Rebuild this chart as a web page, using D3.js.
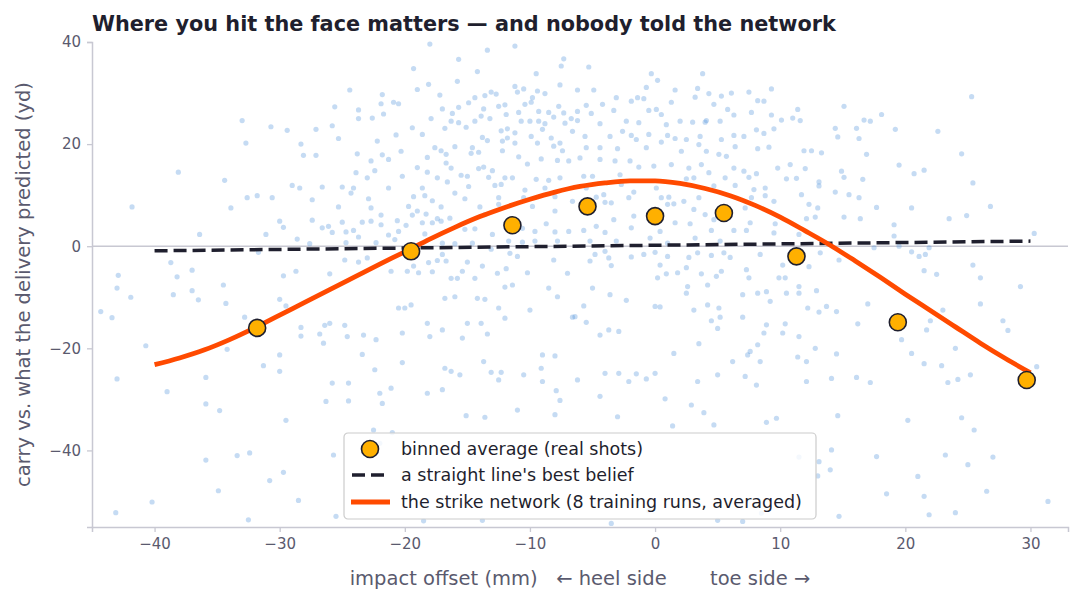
<!DOCTYPE html>
<html>
<head>
<meta charset="utf-8">
<script src="https://cdn.jsdelivr.net/npm/d3@7"></script>
<style>
  body { margin: 0; background: #fff; }
  #chart { width: 1083px; height: 603px; }
  text { font-family: "DejaVu Sans", sans-serif; }
</style>
</head>
<body>
<div id="chart"></div>
<script>
// individual shots: [impact offset mm, carry residual yd]
var shots = [
[-18.0,39.6],[-13.4,38.4],[-11.2,39.2],[-15.7,36.6],[-7.3,36.7],[-7.5,35.3],[-19.3,34.8],[-14.2,34.2],[-9.5,33.8],[-15.8,32.3],
[-18.1,31.7],[-11.2,31.3],[-10.5,30.8],[-7.6,31.6],[-24.4,30.6],[-19.0,30.7],[-6.2,30.6],[-21.8,29.7],[-17.2,29.6],[-13.1,30.2],
[-12.7,29.8],[-13.6,29.5],[-11.0,30.2],[-9.8,29.1],[-9.4,30.4],[-8.8,29.9],[-14.4,29.1],[-20.9,28.2],[-20.5,27.9],[-21.9,27.9],
[-14.9,28.1],[-12.5,27.4],[-12.0,27.7],[-10.4,27.8],[-9.9,28.2],[-7.7,27.4],[-25.6,27.3],[-17.0,26.9],[-15.7,27.2],[-13.7,26.9],
[-23.7,26.7],[-10.9,26.2],[-9.3,26.4],[-8.5,26.2],[-7.3,26.1],[-6.2,26.4],[-21.7,25.9],[-16.2,26.0],[-13.9,25.5],[-13.2,25.0],
[-11.9,25.8],[-8.1,25.3],[-6.7,25.0],[-22.6,25.1],[-23.7,25.0],[-17.9,25.0],[-16.3,24.5],[-15.7,24.2],[-14.4,24.5],[-10.7,24.5],
[-10.0,24.5],[-9.3,24.5],[-8.8,24.0],[-7.2,24.1],[-6.2,24.6],[-33.0,24.6],[-30.7,23.4],[-25.8,23.6],[-19.4,23.2],[-16.8,23.1],
[-15.1,23.3],[-11.8,23.0],[-9.0,22.9],[-6.6,22.5],[-29.4,22.7],[-27.1,22.9],[-20.7,21.8],[-18.6,21.9],[-12.3,22.6],[-11.2,22.2],
[-9.9,21.5],[-13.8,21.3],[-11.8,21.2],[-8.3,21.2],[-25.3,21.1],[-22.2,20.6],[-13.4,20.7],[-12.2,20.6],[-11.2,20.2],[-9.4,20.2],
[-7.6,20.2],[-32.7,20.2],[-28.3,20.0],[-8.1,19.6],[-14.6,19.3],[-17.6,19.3],[-16.0,19.5],[-14.7,18.2],[-14.1,18.4],[-17.1,18.7],
[-16.7,18.0],[-12.2,18.7],[-7.4,18.7],[-20.3,18.6],[-28.1,17.8],[-27.1,17.8],[-23.8,18.1],[-21.8,17.9],[-18.2,17.4],[-10.9,17.5],
[-9.1,17.1],[-7.8,16.8],[-6.9,16.7],[-22.7,16.7],[-21.3,17.0],[-16.7,16.3],[-10.2,16.1],[-19.0,15.4],[-16.3,15.3],[-14.1,15.2],
[-13.7,15.5],[-13.0,14.8],[-38.1,14.5],[-23.9,14.4],[-22.4,14.8],[-18.2,14.5],[-17.4,13.4],[-16.6,12.6],[-15.5,13.9],[-15.0,13.7],
[-13.3,13.5],[-12.0,13.4],[-11.4,13.4],[-9.5,13.1],[-8.5,12.9],[-7.6,13.4],[-34.4,12.9],[-23.0,13.4],[-20.2,13.7],[-29.0,11.9],
[-28.4,11.4],[-26.6,11.6],[-25.0,11.6],[-24.1,11.4],[-21.3,11.4],[-18.6,11.4],[-14.9,11.7],[-12.8,11.9],[-12.3,12.1],[-10.4,11.0],
[-8.8,11.4],[-32.6,9.5],[-31.8,9.9],[-30.6,9.5],[-27.4,9.1],[-24.3,10.4],[-22.9,9.3],[-19.3,9.7],[-18.4,9.9],[-17.8,8.9],
[-16.0,10.4],[-15.2,9.3],[-12.5,9.5],[-10.5,9.5],[-8.0,9.7],[-41.8,7.7],[-33.9,7.5],[-25.3,7.7],[-22.7,7.5],[-19.7,7.8],
[-19.0,6.9],[-17.1,7.7],[-14.0,7.7],[-12.5,8.2],[-9.8,7.8],[-6.6,8.8],[-21.9,6.1],[-19.4,6.1],[-18.3,6.3],[-17.4,5.4],
[-16.4,5.5],[-13.6,6.2],[-8.0,6.9],[-30.0,4.9],[-29.7,3.7],[-27.4,5.1],[-26.6,3.6],[-26.1,3.9],[-25.0,4.7],[-24.1,3.1],
[-23.4,4.7],[-22.7,4.9],[-21.9,4.2],[-20.6,5.0],[-19.9,4.1],[-18.6,4.6],[-17.8,4.6],[-17.1,4.9],[-15.2,3.3],[-14.4,3.4],
[-10.6,3.5],[-9.6,2.9],[-8.7,4.4],[-8.0,2.8],[-6.9,2.9],[-36.4,2.3],[-31.1,2.3],[-25.8,2.7],[-24.7,2.8],[-23.7,1.8],
[-21.3,2.2],[-20.5,2.9],[-18.4,2.4],[-13.0,2.3],[-28.6,1.4],[-27.6,0.5],[-24.7,0.7],[-22.3,0.7],[-20.8,1.3],[-17.0,0.6],
[-16.0,0.5],[-14.6,0.6],[-11.7,1.0],[-10.6,0.8],[-9.6,1.0],[-7.8,1.0],[-38.7,-3.2],[-37.0,-4.7],[-42.9,-5.7],[-38.2,-6.0],
[-31.7,-1.2],[-28.7,-4.9],[-29.7,-5.8],[-26.0,-5.4],[-24.8,-2.7],[-23.7,-3.1],[-23.0,-2.3],[-21.1,-4.9],[-19.8,-4.9],[-19.3,-3.9],
[-18.9,-5.2],[-18.1,-3.2],[-17.8,-5.0],[-17.4,-2.8],[-17.0,-1.6],[-16.7,-2.9],[-16.3,-6.3],[-15.8,-6.3],[-15.4,-4.9],[-15.0,-3.1],
[-14.4,-6.3],[-13.8,-3.9],[-13.1,-0.6],[-12.6,-5.3],[-11.9,-4.4],[-11.6,-1.4],[-11.0,-2.0],[-10.2,-5.2],[-8.1,-2.7],[-7.0,-5.3],
[-5.3,35.1],[-0.3,33.8],[0.2,32.5],[3.8,33.8],[-0.7,31.1],[-4.9,30.6],[3.4,30.9],[1.6,30.6],[7.5,30.2],[9.3,30.8],
[25.3,29.3],[-3.1,29.1],[-1.4,29.1],[-0.9,28.9],[3.2,29.2],[4.3,29.9],[5.3,29.4],[6.1,30.0],[8.2,28.5],[8.7,28.4],
[15.1,27.4],[-5.5,27.6],[-4.2,27.8],[-1.9,28.4],[1.3,28.2],[4.7,27.8],[5.8,26.8],[7.7,26.2],[11.4,26.8],[18.1,25.8],
[-5.1,26.0],[-3.3,26.6],[-0.5,26.6],[0.1,26.8],[0.5,25.8],[2.0,24.5],[3.0,24.3],[4.1,24.6],[5.2,24.5],[6.3,25.7],
[9.3,25.7],[10.1,24.7],[11.0,25.1],[11.6,24.6],[16.7,24.7],[17.2,24.5],[-4.4,24.0],[-2.3,24.5],[-1.3,24.2],[0.9,23.8],
[4.0,24.3],[8.1,22.8],[9.5,23.0],[14.4,23.1],[16.1,23.1],[19.2,22.9],[22.6,22.5],[-5.6,21.5],[-3.6,21.5],[-2.6,22.5],
[-1.9,21.7],[-0.5,21.9],[1.0,21.7],[1.6,21.1],[2.5,20.9],[3.6,21.5],[5.3,20.9],[6.3,21.7],[7.1,21.5],[8.7,22.1],
[14.6,21.4],[16.3,21.1],[-5.5,19.3],[-4.4,19.3],[-3.0,19.1],[-1.5,20.9],[-0.7,19.3],[0.5,20.4],[2.1,18.6],[3.5,19.9],
[4.1,18.6],[5.1,18.0],[5.7,17.6],[6.4,19.5],[8.2,19.1],[9.1,19.4],[11.9,18.7],[12.5,18.7],[13.3,18.3],[16.9,18.0],
[24.5,18.1],[-6.0,17.3],[-4.4,17.0],[-3.2,16.7],[-2.0,16.7],[-0.1,15.7],[1.3,16.0],[2.7,15.3],[3.7,16.0],[4.3,14.4],
[6.3,15.3],[7.1,14.7],[8.1,14.2],[9.8,15.3],[10.8,16.0],[12.0,15.2],[14.9,14.7],[19.5,15.9],[20.7,14.2],[21.5,14.9],
[-5.7,13.7],[-5.0,13.7],[-2.8,14.0],[-1.3,15.5],[2.5,13.2],[3.1,13.4],[5.6,13.4],[7.5,13.5],[10.5,13.2],[11.3,13.3],
[13.1,12.6],[15.1,13.5],[16.6,13.1],[25.4,12.4],[-5.5,11.4],[-2.7,12.1],[0.1,11.4],[4.7,11.8],[6.4,11.9],[7.9,11.1],
[8.8,11.4],[13.1,11.8],[14.4,10.6],[15.5,10.1],[-4.7,9.6],[-4.1,10.1],[-2.1,9.5],[-1.7,10.6],[0.5,9.5],[1.1,9.6],
[2.3,8.8],[3.5,9.5],[7.7,9.5],[8.8,9.9],[11.7,10.1],[16.3,9.5],[17.7,7.6],[20.5,7.5],[26.8,7.8],[-4.0,8.6],
[-3.5,8.5],[1.0,8.2],[1.5,8.3],[3.1,7.2],[7.2,7.5],[9.5,8.8],[12.3,8.2],[13.0,7.5],[-3.3,5.2],[-1.9,3.6],
[-1.7,5.9],[1.6,4.6],[2.8,4.4],[4.0,6.2],[4.7,5.2],[7.6,4.6],[9.6,4.4],[12.1,5.4],[12.8,5.7],[15.1,5.7],
[16.4,5.4],[23.5,5.4],[24.9,6.0],[-5.7,3.1],[-4.7,3.9],[-4.0,2.7],[-0.4,1.6],[0.4,2.9],[4.5,3.1],[6.3,3.1],
[7.3,3.1],[9.5,2.6],[11.5,2.3],[19.1,4.2],[19.1,2.0],[30.3,2.5],[-5.2,1.0],[-3.1,1.0],[1.0,0.6],[3.2,1.6],
[5.2,1.0],[-4.8,-1.6],[-5.2,-2.9],[-4.0,-1.0],[-1.9,-2.1],[-0.9,-1.6],[0.0,-1.2],[1.0,-2.0],[2.7,-2.2],[3.4,-1.3],
[4.5,-1.8],[5.5,-1.3],[6.0,-2.2],[8.4,-1.6],[13.2,-1.3],[14.7,-2.7],[17.5,-0.3],[19.5,0.0],[20.5,-1.1],[21.6,-1.6],
[21.1,-2.0],[21.9,-0.3],[25.4,-3.7],[-3.7,-2.3],[-3.5,-3.8],[0.4,-3.7],[2.5,-4.2],[5.3,-4.9],[7.3,-4.6],[10.2,-3.7],
[12.3,-4.0],[21.5,-4.8],[22.5,-5.5],[0.2,-6.2],[0.9,-5.4],[1.8,-5.2],[3.7,-5.4],[4.9,-5.9],[7.5,-6.2],[9.9,-6.2],
[10.4,-6.2],[26.0,-6.2],
[-43.0,-8.2],[-41.9,-10.0],[-38.5,-9.5],[-37.0,-8.7],[-36.5,-10.5],[-34.5,-7.6],[-34.3,-11.2],[-30.0,-10.4],[-44.3,-12.8],[-43.4,-14.0],
[-32.8,-13.9],[-29.5,-11.7],[-28.3,-15.9],[-26.4,-15.5],[-24.8,-15.5],[-24.6,-17.7],[-28.3,-17.6],[-26.8,-17.2],[-40.7,-19.5],[-34.2,-20.2],
[-30.0,-21.3],[-31.3,-23.4],[-30.0,-24.5],[-35.9,-25.7],[-43.0,-26.0],[-39.0,-28.5],[-35.9,-30.9],[-34.8,-32.2],[-29.5,-34.1],[-40.2,-50.1],
[-43.1,-52.2],[-33.4,-41.0],[-32.4,-40.5],[-35.9,-41.9],[-34.9,-47.9],[-32.5,-53.6],[-30.8,-45.9],[-29.7,-44.3],[-28.5,-49.8],[-26.3,-30.4],
[-24.5,-30.3],[-25.8,-26.8],[-24.5,-26.8],[-23.4,-21.2],[-22.0,-28.8],[-21.1,-27.8],[-22.3,-18.3],[-22.4,-24.2],[-21.8,-30.8],[-20.2,-22.8],
[-20.0,-12.1],[-19.5,-11.5],[-20.2,-17.0],[-18.2,-28.8],[-18.2,-15.1],[-18.0,-17.7],[-16.8,-23.9],[-16.3,-24.5],[-15.6,-25.2],[-15.0,-15.1],
[-13.9,-15.1],[-15.1,-33.2],[-13.6,-33.5],[-13.7,-22.6],[-13.4,-17.2],[-13.1,-24.7],[-12.3,-24.7],[-12.0,-14.1],[-10.5,-25.2],[-9.1,-23.9],
[-9.0,-21.3],[-7.9,-28.3],[-8.0,-21.5],[-7.6,-30.2],[-6.6,-13.9],[-5.7,-11.7],[-5.5,-14.9],[-4.4,-17.4],[-4.4,-29.4],[-3.7,-16.4],
[-2.9,-16.7],[-2.9,-24.9],[-2.1,-26.5],[-1.5,-25.0],[-0.7,-26.0],[0.0,-24.9],[0.4,-11.9],[1.5,-21.0],[0.8,-29.9],[1.4,-35.2],
[2.9,-31.1],[3.5,-19.1],[3.9,-32.6],[4.5,-14.6],[5.2,-13.9],[7.0,-13.9],[7.4,-21.3],[7.6,-20.6],[8.4,-22.6],[8.1,-27.2],
[8.9,-34.5],[9.7,-33.7],[10.4,-15.2],[11.4,-21.7],[12.1,-22.6],[12.1,-26.5],[12.8,-20.0],[14.1,-25.9],[14.5,-21.1],[14.6,-33.2],
[16.1,-25.7],[16.2,-15.2],[17.2,-26.7],[17.0,-11.3],[19.7,-18.3],[20.2,-34.1],[20.5,-21.0],[21.5,-23.0],[21.7,-16.4],[22.0,-14.6],
[22.9,-23.4],[23.0,-12.5],[23.4,-26.7],[24.0,-20.0],[24.2,-26.1],[24.5,-33.6],[25.2,-25.2],[25.5,-36.0],[26.0,-11.3],[27.0,-41.3],
[27.8,-14.6],[28.2,-16.5],[29.2,-7.9],[30.5,-23.6],[31.4,-50.0],[23.2,-40.9],[25.0,-42.8],[21.0,-45.1],[18.5,-48.5],[26.5,-48.0],
[24.0,-52.2],[21.9,-52.6],[13.0,-45.0],[14.0,-43.8],[14.1,-39.9],[13.1,-42.2],[17.7,-41.2],[14.7,-52.9],[8.5,-52.3],[7.0,-53.9],
[5.0,-53.7],[-0.5,-51.8],[-3.5,-54.3],[4.7,-35.0],[-22.5,-36.0],[-21.0,-36.5],[-22.0,-38.6],[-25.7,-40.9],[-18.5,-53.8],[-13.8,-53.7],
[-25.5,-52.9],[11.5,-41.3],[21.5,-49.0],[-11.0,-32.1],[-8.0,-33.0],[-3.0,-33.4],[8.2,-19.3],[5.0,-16.1],[6.2,-22.6],
[-20.5,-12.1],[-16.8,-10.2],[-16.0,-9.9],[-14.2,-10.2],[-13.6,-10.4],[-12.5,-12.1],[-12.0,-8.0],[-11.4,-7.6],[-10.0,-12.5],[-8.5,-8.2],
[-7.8,-9.9],[-6.4,-13.8],[-5.0,-8.2],[-3.6,-9.5],[-2.3,-10.6],[0.0,-11.8],[2.6,-7.9],[2.5,-9.2],[4.2,-7.6],[3.1,-12.5],
[4.2,-11.5],[5.1,-12.1],[7.0,-9.5],[8.2,-9.2],[8.9,-8.9],[9.2,-10.8],[10.5,-9.2],[11.5,-9.2],[12.2,-12.1],[13.7,-11.8],
[13.1,-12.9],[14.5,-12.8],[12.9,-8.7],[11.5,-7.9],[11.5,-17.7],[8.7,-17.0],[8.9,-15.4],[10.2,-17.0],[7.2,-25.5],[5.0,-25.2],
[3.4,-26.5],[-4.0,-24.9],[-6.2,-26.2],[-9.0,-26.5],[-12.5,-26.2],[-17.0,-28.1],[-15.4,-18.0],[-17.0,-16.4],[-23.3,-17.4],[-26.5,-19.0],
[-26.0,-15.1]
];

// binned averages of the real shots
var binX = [-31.8, -19.5, -11.4, -5.4, 0.0, 5.5, 11.3, 19.4, 29.7];
var binY = [-16.0, -1.0, 4.1, 7.8, 5.9, 6.5, -2.0, -14.9, -26.2];

// straight-line fit
var lineX = [-40, 30];
var lineY = [-0.9, 1.0];

// strike network mean prediction
var netX = [-40, -38, -36, -34, -32, -30, -28, -26, -24, -22, -20, -18, -16, -14, -12, -10, -8, -6, -4, -2, 0, 2, 4, 6, 8, 10, 12, 14, 16, 18, 20, 22, 24, 26, 28, 30];
var netY = [-23.2, -21.9, -20.3, -18.3, -16.0, -13.5, -11.0, -8.5, -6.0, -3.5, -1.1, 1.4, 3.7, 5.8, 7.6, 9.2, 10.6, 11.7, 12.4, 12.8, 12.8, 12.3, 11.3, 9.9, 8.0, 5.7, 3.0, 0.2, -2.9, -6.1, -9.4, -12.6, -15.8, -19.0, -22.0, -24.8];

var xTicks = [-40, -30, -20, -10, 0, 10, 20, 30];
var yTicks = [-40, -20, 0, 20, 40];

var legendLabels = ["binned average (real shots)", "a straight line's best belief", "the strike network (8 training runs, averaged)"];

var width = 1083, height = 603;
var margin = {top: 42, right: 15, bottom: 76, left: 92};

var ink = "#1f1f2e", muted = "#5a5a6e", spine = "#c8c8d2";

var svg = d3.select("#chart")
	.append("svg")
	.attr("width", width)
	.attr("height", height);

var x = d3.scaleLinear()
	.domain([-45, 33])
	.range([margin.left, width - margin.right]);

var y = d3.scaleLinear()
	.domain([-55, 40])
	.range([height - margin.bottom, margin.top]);

var fmt = function(d) { return d < 0 ? "\u2212" + Math.abs(d) : "" + d; };

// zero line
svg.append("line")
	.attr("x1", x.range()[0]).attr("x2", x.range()[1])
	.attr("y1", y(0)).attr("y2", y(0))
	.attr("stroke", spine)
	.attr("stroke-width", 1.5);

// scatter of shots
svg.append("g")
	.selectAll("circle")
	.data(shots)
	.enter()
	.append("circle")
	.attr("cx", function(d) { return x(d[0]); })
	.attr("cy", function(d) { return y(d[1]); })
	.attr("r", 2.6)
	.attr("fill", "#4a90d9")
	.attr("fill-opacity", 0.32);

// axes
var xAxis = d3.axisBottom(x).tickValues(xTicks).tickFormat(fmt).tickSize(5).tickPadding(6);
var yAxis = d3.axisLeft(y).tickValues(yTicks).tickFormat(fmt).tickSize(5).tickPadding(6);

var gx = svg.append("g")
	.attr("transform", "translate(0," + (height - margin.bottom) + ")")
	.call(xAxis);
var gy = svg.append("g")
	.attr("transform", "translate(" + margin.left + ",0)")
	.call(yAxis);

[gx, gy].forEach(function(g) {
	g.select(".domain").attr("stroke", spine).attr("stroke-width", 1.5);
	g.selectAll(".tick line").attr("stroke", spine).attr("stroke-width", 1.3);
	g.selectAll(".tick text")
		.attr("fill", muted)
		.style("font-size", "15px")
		.style("font-family", "DejaVu Sans, sans-serif");
});

// straight-line fit (dashed)
var lineData = lineX.map(function(v, i) { return [v, lineY[i]]; });
svg.append("path")
	.datum(lineData)
	.attr("fill", "none")
	.attr("stroke", ink)
	.attr("stroke-width", 3.5)
	.attr("stroke-dasharray", "13,6")
	.attr("d", d3.line().x(function(d) { return x(d[0]); }).y(function(d) { return y(d[1]); }));

// network curve
var netData = netX.map(function(v, i) { return [v, netY[i]]; });
svg.append("path")
	.datum(netData)
	.attr("fill", "none")
	.attr("stroke", "#ff4a00")
	.attr("stroke-width", 4.8)
	.attr("d", d3.line().curve(d3.curveMonotoneX).x(function(d) { return x(d[0]); }).y(function(d) { return y(d[1]); }));

// binned averages
var binData = binX.map(function(v, i) { return [v, binY[i]]; });
svg.append("g")
	.selectAll("circle")
	.data(binData)
	.enter()
	.append("circle")
	.attr("cx", function(d) { return x(d[0]); })
	.attr("cy", function(d) { return y(d[1]); })
	.attr("r", 8.5)
	.attr("fill", "#ffb000")
	.attr("stroke", ink)
	.attr("stroke-width", 1.6);

// title
svg.append("text")
	.attr("x", margin.left)
	.attr("y", 31)
	.attr("fill", ink)
	.style("font-size", "20.8px")
	.style("font-weight", "bold")
	.text("Where you hit the face matters \u2014 and nobody told the network");

// axis labels
svg.append("text")
	.attr("x", (x.range()[0] + x.range()[1]) / 2)
	.attr("y", 585)
	.attr("text-anchor", "middle")
	.attr("fill", muted)
	.style("font-size", "19.5px")
	.style("white-space", "pre")
	.attr("xml:space", "preserve")
	.text("impact offset (mm)   \u2190 heel side       toe side \u2192");

svg.append("text")
	.attr("transform", "translate(30," + ((y.range()[0] + y.range()[1]) / 2) + ") rotate(-90)")
	.attr("text-anchor", "middle")
	.attr("fill", muted)
	.style("font-size", "19.5px")
	.text("carry vs. what the delivery predicted (yd)");

// legend
var lg = svg.append("g").attr("transform", "translate(344,433)");
lg.append("rect")
	.attr("width", 472)
	.attr("height", 86)
	.attr("rx", 4)
	.attr("fill", "#fff")
	.attr("fill-opacity", 0.8)
	.attr("stroke", "#cccccc")
	.attr("stroke-width", 1.2);

var rowY = [16, 42, 69];
lg.append("circle")
	.attr("cx", 26).attr("cy", rowY[0])
	.attr("r", 8.5)
	.attr("fill", "#ffb000")
	.attr("stroke", ink)
	.attr("stroke-width", 1.6);
lg.append("line")
	.attr("x1", 8).attr("x2", 44)
	.attr("y1", rowY[1]).attr("y2", rowY[1])
	.attr("stroke", ink)
	.attr("stroke-width", 3.5)
	.attr("stroke-dasharray", "13,6");
lg.append("line")
	.attr("x1", 7).attr("x2", 46)
	.attr("y1", rowY[2]).attr("y2", rowY[2])
	.attr("stroke", "#ff4a00")
	.attr("stroke-width", 4.8);

lg.selectAll("text.lab")
	.data(legendLabels)
	.enter()
	.append("text")
	.attr("class", "lab")
	.attr("x", 57)
	.attr("y", function(d, i) { return rowY[i]; })
	.attr("dy", "0.35em")
	.attr("fill", ink)
	.style("font-size", "17.5px")
	.text(function(d) { return d; });
</script>
</body>
</html>
